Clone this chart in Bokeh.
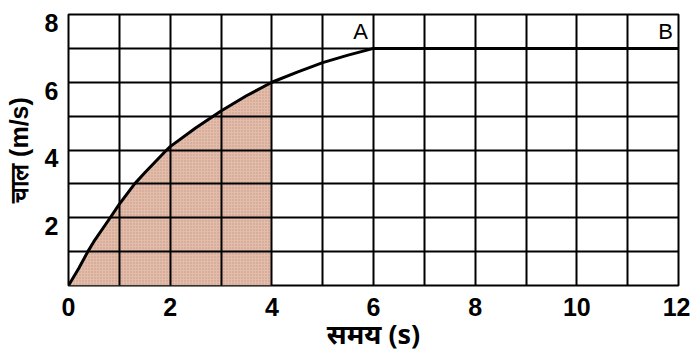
from bokeh.plotting import figure
from bokeh.models import FixedTicker, Range1d, Label, LinearAxis
from bokeh.embed import file_html
from bokeh.resources import INLINE

# data
curve_x = [0, 0.2, 0.38, 0.5, 0.82, 1, 1.3, 1.5, 1.93, 2, 2.5, 3, 3.5, 4, 4.5, 5, 5.5, 6, 12]
curve_y = [0, 0.5, 1, 1.3, 2, 2.4, 3, 3.33, 4, 4.1, 4.65, 5.15, 5.6, 6.0, 6.3, 6.58, 6.8, 7, 7]
shade_until = 4
x_ticks = [0, 2, 4, 6, 8, 10, 12]
y_ticks = [2, 4, 6, 8]
x_grid = list(range(0, 13))
y_grid = list(range(0, 9))
point_labels = ["A", "B"]
point_x = [6, 12]
point_y = [7, 7]
x_title = "समय (s)"
y_title = "चाल (m/s)"

Y_MIN, Y_MAX = 0, 8
LABEL_SHIFT = 0.25  # y tick labels sit just below their grid line

p = figure(width=690, height=354, output_backend="svg", toolbar_location=None,
           x_range=Range1d(0, 12), y_range=Range1d(Y_MIN, Y_MAX),
           min_border_left=68, min_border_right=12, min_border_top=14, min_border_bottom=68)
p.background_fill_color = "white"
p.border_fill_color = "white"
p.outline_line_color = "black"
p.outline_line_width = 2

sx = [x for x in curve_x if x <= shade_until]
sy = [y for x, y in zip(curve_x, curve_y) if x <= shade_until]
p.varea(x=sx, y1=[0] * len(sx), y2=sy, fill_color="#e4bcaa", fill_alpha=1,
        hatch_pattern="dot", hatch_color="#9a6a5e", hatch_scale=3, hatch_alpha=0.45)

p.xgrid.ticker = FixedTicker(ticks=x_grid)
p.ygrid.ticker = FixedTicker(ticks=y_grid)
for g in (p.xgrid, p.ygrid):
    g.grid_line_color = "black"
    g.grid_line_width = 2
    g.grid_line_alpha = 1
    g.level = "overlay"

p.line(curve_x, curve_y, line_color="black", line_width=3)

for t, x, y in zip(point_labels, point_x, point_y):
    p.add_layout(Label(x=x, y=y, text=t, x_offset=-13, y_offset=4,
                       text_align="center", text_baseline="bottom",
                       text_font="Liberation Sans", text_font_size="22px",
                       text_color="black"))

# x axis
p.xaxis.ticker = FixedTicker(ticks=x_ticks)
p.xaxis.axis_label = x_title

# y axis on a shifted range so that its labels sit below the grid lines
p.yaxis.visible = False
p.extra_y_ranges = {"lab": Range1d(Y_MIN + LABEL_SHIFT, Y_MAX + LABEL_SHIFT)}
yax = LinearAxis(y_range_name="lab", ticker=FixedTicker(ticks=y_ticks), axis_label=y_title)
p.add_layout(yax, "left")

for ax in (p.xaxis[0], yax):
    ax.axis_line_color = None
    ax.major_tick_line_color = None
    ax.minor_tick_line_color = None
    ax.major_label_text_font = "Liberation Sans"
    ax.major_label_text_font_style = "bold"
    ax.major_label_text_font_size = "25px"
    ax.major_label_text_color = "black"
    ax.axis_label_text_font_style = "bold"
    ax.axis_label_text_color = "black"
p.xaxis.major_label_standoff = 6
p.xaxis.axis_label_text_font = "Noto Sans"
p.xaxis.axis_label_text_font_size = "27px"
p.xaxis.axis_label_standoff = -4
yax.major_label_standoff = 4
yax.axis_label_text_font = "Liberation Sans"
yax.axis_label_text_font_size = "25px"
yax.axis_label_standoff = 9

open("out.html", "w").write(file_html(p, INLINE))
